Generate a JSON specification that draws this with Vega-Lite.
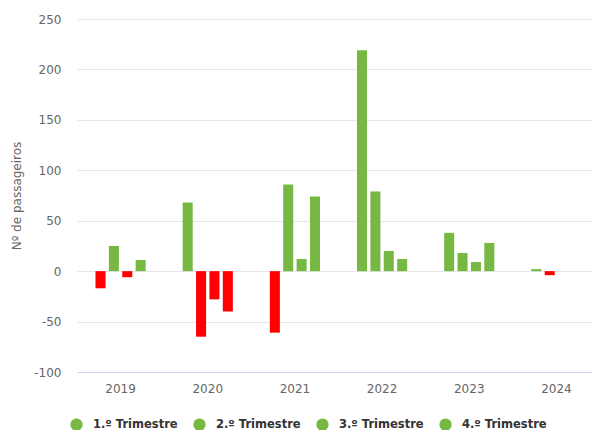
{
  "$schema": "https://vega.github.io/schema/vega-lite/v6.json",
  "width": 515,
  "height": 353,
  "autosize": {"type": "none"},
  "padding": {"left": 77, "top": 19, "right": 0, "bottom": 58},
  "background": "white",
  "data": {
    "values": [
      {"year": "2019", "q": "1.º Trimestre", "v": -17},
      {"year": "2019", "q": "2.º Trimestre", "v": 25},
      {"year": "2019", "q": "3.º Trimestre", "v": -6},
      {"year": "2019", "q": "4.º Trimestre", "v": 11},
      {"year": "2020", "q": "1.º Trimestre", "v": 68},
      {"year": "2020", "q": "2.º Trimestre", "v": -65},
      {"year": "2020", "q": "3.º Trimestre", "v": -28},
      {"year": "2020", "q": "4.º Trimestre", "v": -40},
      {"year": "2021", "q": "1.º Trimestre", "v": -61},
      {"year": "2021", "q": "2.º Trimestre", "v": 86},
      {"year": "2021", "q": "3.º Trimestre", "v": 12},
      {"year": "2021", "q": "4.º Trimestre", "v": 74},
      {"year": "2022", "q": "1.º Trimestre", "v": 219},
      {"year": "2022", "q": "2.º Trimestre", "v": 79},
      {"year": "2022", "q": "3.º Trimestre", "v": 20},
      {"year": "2022", "q": "4.º Trimestre", "v": 12},
      {"year": "2023", "q": "1.º Trimestre", "v": 38},
      {"year": "2023", "q": "2.º Trimestre", "v": 18},
      {"year": "2023", "q": "3.º Trimestre", "v": 9},
      {"year": "2023", "q": "4.º Trimestre", "v": 28},
      {"year": "2024", "q": "1.º Trimestre", "v": 2},
      {"year": "2024", "q": "2.º Trimestre", "v": -4}
    ]
  },
  "mark": {"type": "bar"},
  "encoding": {
    "x": {
      "field": "year",
      "type": "ordinal",
      "scale": {"range": [0, 523], "paddingInner": 0.386, "paddingOuter": 0.193},
      "axis": {
        "title": null,
        "labelAngle": 0,
        "labelColor": "#666666",
        "labelFontSize": 12,
        "labelFont": "DejaVu Sans",
        "labelPadding": 11,
        "ticks": false,
        "domain": true,
        "domainColor": "#ccd6eb",
        "grid": false
      }
    },
    "xOffset": {
      "field": "q",
      "type": "nominal",
      "scale": {"paddingInner": 0.25, "paddingOuter": 0.125}
    },
    "y": {
      "field": "v",
      "type": "quantitative",
      "scale": {"domain": [-100, 250], "nice": false},
      "axis": {
        "values": [-100, -50, 0, 50, 100, 150, 200, 250],
        "title": "Nº de passageiros",
        "titleColor": "#666666",
        "titleFont": "DejaVu Sans",
        "titleFontSize": 12,
        "titleFontWeight": "normal",
        "titlePadding": 10,
        "labelColor": "#666666",
        "labelFont": "DejaVu Sans",
        "labelFontSize": 12,
        "labelPadding": 16,
        "labelExpr": "replace(datum.label, '−', '-')",
        "domain": false,
        "ticks": false,
        "grid": true,
        "gridColor": "#e6e6e6"
      }
    },
    "color": {
      "condition": {"test": "datum.v < 0", "value": "#ff0000"},
      "field": "q",
      "type": "nominal",
      "scale": {"range": ["#77b843", "#77b843", "#77b843", "#77b843"]},
      "legend": {
        "title": null,
        "orient": "none",
        "legendX": -7,
        "legendY": 399,
        "direction": "horizontal",
        "symbolType": "circle",
        "symbolSize": 150,
        "symbolStrokeWidth": 0,
        "labelFont": "DejaVu Sans",
        "labelFontSize": 11.5,
        "labelFontWeight": "bold",
        "labelColor": "#333333",
        "labelOffset": 10,
        "labelLimit": 200,
        "columnPadding": 15,
        "gridAlign": "all",
        "padding": 0
      }
    }
  },
  "config": {"view": {"stroke": null}}
}
